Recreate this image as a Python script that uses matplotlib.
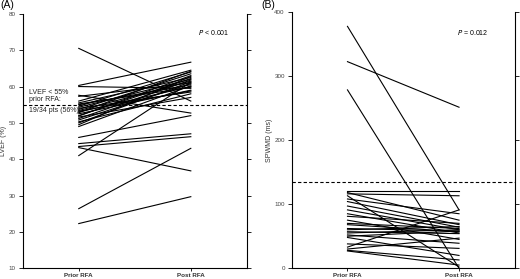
import numpy as np
import matplotlib
matplotlib.use("Agg")
import matplotlib.pyplot as plt

plt.rcParams['font.family'] = ['Liberation Sans', 'DejaVu Sans']

# ------------------------------------------------------------
# Data
# ------------------------------------------------------------

groups = ["Prior RFA", "Post RFA"]

# Panel A: LVEF (%)
lvef_prior = [70.5, 60.3, 60.0, 57.6, 57.3, 56.0, 55.5, 55.0, 54.6, 54.3,
              54.0, 53.7, 53.4, 53.0, 52.8, 52.5, 52.0, 51.6, 51.2, 50.8,
              50.3, 49.5, 49.0, 46.0, 44.3, 43.5, 43.2, 41.0, 26.4, 22.3,
              55.2, 53.2, 51.9, 50.0]
lvef_post = [56.0, 66.7, 59.5, 52.7, 61.0, 64.5, 62.5, 60.5, 64.0, 62.0,
             58.5, 63.5, 61.5, 60.0, 64.2, 59.0, 62.2, 57.0, 61.8, 60.8,
             58.0, 62.8, 60.2, 52.0, 47.0, 46.2, 36.8, 61.2, 43.0, 29.7,
             59.8, 58.8, 63.0, 61.3]
lvef_cut = 55

# Panel B: SPWMD (ms)
spwmd_prior = [377, 322, 278, 120, 118, 116, 113, 108, 104, 97,
               91, 85, 81, 75, 70, 68, 62, 60, 57, 55,
               52, 50, 48, 38, 33, 30, 28, 27]
spwmd_post = [91, 251, 0, 120, 75, 113, 2, 85, 68, 64,
              60, 55, 70, 45, 62, 57, 58, 65, 54, 60,
              39, 58, 20, 31, 91, 47, 13, 5]
spwmd_cut = 134


def style_axis(ax, ylim, yticks):
    ax.set_xlim(-0.5, 1.5)
    ax.set_ylim(*ylim)
    ax.set_yticks(yticks)
    ax.set_xticks([0, 1])
    ax.set_xticklabels(groups, fontsize=4.5, fontweight='bold', color='#333333')
    ax.spines['top'].set_visible(False)
    for s in ['left', 'right', 'bottom']:
        ax.spines[s].set_linewidth(0.8)
    ax.tick_params(axis='y', direction='out', length=3, width=0.6,
                   labelsize=4.5, labelcolor='#444444', right=True,
                   labelright=False, pad=2)
    ax.tick_params(axis='x', direction='out', length=2.5, width=0.6, pad=1)


fig = plt.figure(figsize=(5.2, 2.79), dpi=100)

# ------------------------------------------------------------
# (A) LVEF
# ------------------------------------------------------------
axA = fig.add_axes([0.0437, 0.0384, 0.431, 0.912])
for a, b in zip(lvef_prior, lvef_post):
    axA.plot([0, 1], [a, b], color='black', lw=0.8)
axA.axhline(lvef_cut, color='black', lw=0.8, ls=(0, (3, 2)))
style_axis(axA, (10, 80), np.arange(10, 81, 10))
axA.set_ylabel("LVEF (%)", fontsize=5, color='#333333', labelpad=1)
axA.text(1.2, 75, r"$P$ < 0.001", fontsize=5, ha='center', va='center')
axA.text(-0.44, 57.4, "LVEF < 55%\nprior RFA:", fontsize=5, ha='left',
         va='center', linespacing=1.1, color='#222222')
axA.text(-0.44, 53.3, "19/34 pts (56%)", fontsize=5, ha='left',
         va='center', color='#222222')
fig.text(0.0, 1.0, "(A)", fontsize=7.5, ha='left', va='top')

# ------------------------------------------------------------
# (B) SPWMD
# ------------------------------------------------------------
axB = fig.add_axes([0.561, 0.0384, 0.429, 0.92])
for a, b in zip(spwmd_prior, spwmd_post):
    axB.plot([0, 1], [a, b], color='black', lw=0.8)
axB.axhline(spwmd_cut, color='black', lw=0.8, ls=(0, (3, 2)))
style_axis(axB, (0, 400), np.arange(0, 401, 100))
axB.set_ylabel("SPWMD (ms)", fontsize=5, color='#333333', labelpad=1)
axB.text(1.125, 368, r"$P$ = 0.012", fontsize=5, ha='center', va='center')
fig.text(0.503, 1.0, "(B)", fontsize=7.5, ha='left', va='top')

fig.savefig("out.png", dpi=100)
